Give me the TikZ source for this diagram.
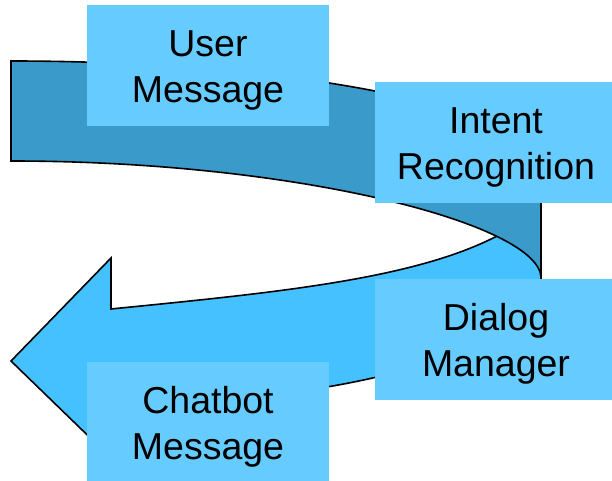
\documentclass[tikz,border=0pt]{standalone}
\usepackage{fontspec}
\setmainfont{Liberation Sans}
\definecolor{bandblue}{RGB}{58,154,202}
\definecolor{arrowblue}{RGB}{69,193,255}
\definecolor{boxblue}{RGB}{102,204,255}
\newcommand\firstline{\rule{0pt}{36pt}}
\tikzset{
  outline/.style={draw=black, line width=1.6pt, line join=miter},
  stagebox/.style={fill=boxblue, minimum width=242pt, minimum height=121pt,
    inner sep=0pt, align=center, font=\fontsize{37.5}{45.6}\selectfont}
}
\begin{document}
\begin{tikzpicture}[x=1pt, y=-1pt]
  \clip (0,0) rectangle (612,481);

  % front part of the curved arrow, pointing left
  \path[outline, fill=arrowblue]
    (111,309) -- (111,258) -- (11,361) -- (111,458) -- (111,404)
    .. controls (348.5,404) and (541,347.6) .. (541,278)
    -- (541,205)
    .. controls (470,275) and (300,290) .. (111,309) -- cycle;

  % back part of the curved arrow, in a darker shade
  \path[outline, fill=bandblue]
    (11,61) .. controls (303.7,61) and (541,110.2) .. (541,171)
    -- (541,278)
    .. controls (541,225) and (300,161) .. (11,161) -- cycle;

  % process stages
  \node[stagebox] (user)   at (208,65.5)  {\firstline User\\Message};
  \node[stagebox] (intent) at (496,142.5) {\firstline Intent\\Recognition};
  \node[stagebox] (dialog) at (496,339.5) {\firstline Dialog\\Manager};
  \node[stagebox] (reply)  at (208,422.5) {\firstline Chatbot\\Message};
\end{tikzpicture}
\end{document}
